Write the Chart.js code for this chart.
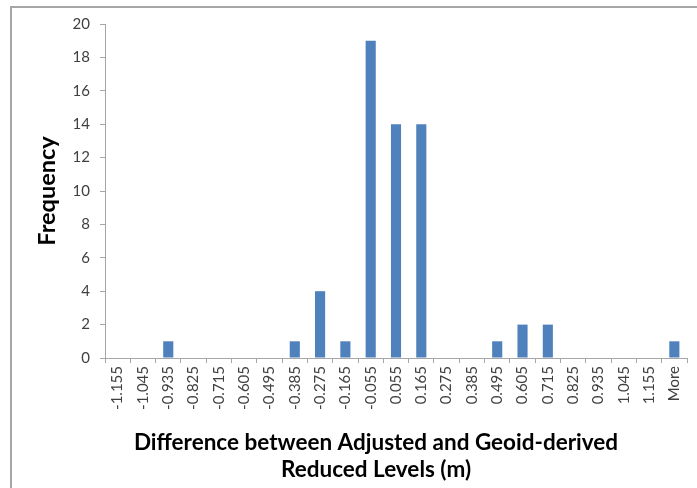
<!DOCTYPE html>
<html>
<head>
<meta charset="utf-8">
<script src="https://cdn.jsdelivr.net/npm/chart.js@4"></script>
<style>
  body { margin: 0; background: #fff; }
  #wrap { position: relative; width: 697px; height: 488px; overflow: hidden; }
  #frame { position: absolute; left: 10px; top: 6px; width: 800px; height: 600px;
           border-left: 2px solid #a6a6a6; border-top: 2px solid #a6a6a6; }
  canvas { position: absolute; left: 0; top: 0; }
</style>
</head>
<body>
<div id="wrap">
  <div id="frame"></div>
  <canvas id="histChart" width="697" height="488"></canvas>
</div>
<script>
// bin labels (m) and counts
const binLabels = ['-1.155', '-1.045', '-0.935', '-0.825', '-0.715', '-0.605', '-0.495',
    '-0.385', '-0.275', '-0.165', '-0.055', '0.055', '0.165', '0.275', '0.385', '0.495',
    '0.605', '0.715', '0.825', '0.935', '1.045', '1.155', 'More'];
const frequency = [0, 0, 1, 0, 0, 0, 0, 1, 4, 1, 19, 14, 14, 0, 0, 1, 2, 2, 0, 0, 0, 0, 1];
const yTicks = { min: 0, max: 20, step: 2 };
const xTitle = ['Difference between Adjusted and Geoid-derived', 'Reduced Levels (m)'];
const yTitle = 'Frequency';

const axisGray = '#a6a6a6';
const labelColor = '#404040';

/**
 * The x axis title sits a bit left of the plot centre in the original,
 * so nudge it while the scale draws it.
 */
const shiftXTitle = {
    id: 'shiftXTitle',
    beforeDraw: function(chart) {
        const scale = chart.scales.x;
        if (scale._shifted) return;
        const orig = scale.drawTitle;
        scale.drawTitle = function() {
            this.ctx.save();
            this.ctx.translate(-20, 0);
            orig.apply(this, arguments);
            this.ctx.restore();
        };
        scale._shifted = true;
    }
};

var histChart = new Chart(document.getElementById('histChart').getContext('2d'), {
    type: 'bar',
    data: {
        labels: binLabels,
        datasets: [{
            label: yTitle,
            data: frequency,
            backgroundColor: '#4f81bd',
            borderWidth: 0,
            barPercentage: 0.4,
            categoryPercentage: 1
        }]
    },
    options: {
        responsive: false,
        animation: false,
        layout: { padding: { top: 24, right: 10, left: 0, bottom: 0 } },
        plugins: { legend: { display: false }, tooltip: { enabled: false } },
        scales: {
            x: {
                afterFit: function(scale) { scale.height = 130; },
                grid: { drawOnChartArea: false, drawTicks: true, tickLength: 5, color: axisGray, offset: true },
                border: { display: true, color: axisGray, width: 1 },
                ticks: {
                    minRotation: 90, maxRotation: 90, autoSkip: false, padding: 3,
                    color: labelColor, font: { family: 'Lato', size: 15 }
                },
                title: {
                    display: true, text: xTitle, color: '#000',
                    font: { family: 'Lato', size: 22.5, weight: 'bold', lineHeight: 1.2 },
                    padding: { top: 0, bottom: 4.5 }
                }
            },
            y: {
                min: yTicks.min, max: yTicks.max,
                afterFit: function(scale) { scale.width = 105; },
                grid: { drawOnChartArea: false, drawTicks: true, tickLength: 5, color: axisGray },
                border: { display: true, color: axisGray, width: 1 },
                ticks: {
                    stepSize: yTicks.step, padding: 10,
                    color: labelColor, font: { family: 'Lato', size: 15 }
                },
                title: {
                    display: true, text: yTitle, color: '#000',
                    font: { family: 'Lato', size: 23.5, weight: 'bold', lineHeight: 1.2 },
                    padding: { top: 33, bottom: 0 }
                }
            }
        }
    },
    plugins: [shiftXTitle]
});
</script>
</body>
</html>
